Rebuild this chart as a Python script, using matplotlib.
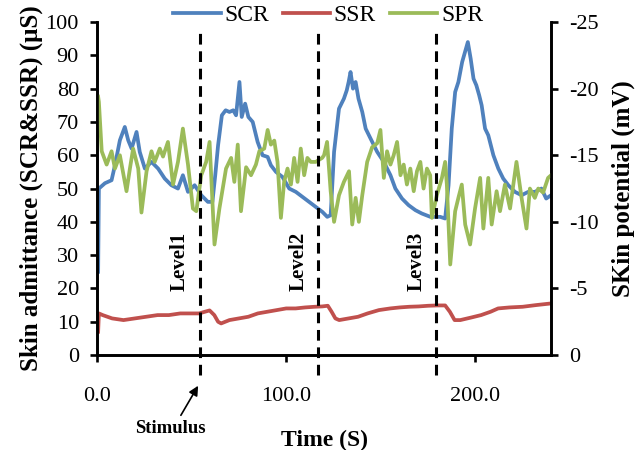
import matplotlib

matplotlib.use("Agg")
import matplotlib.pyplot as plt

# ── Data
scr_t = [0.6, 1.0, 4.2, 7.7, 9.5, 12.1, 14.7, 16.5, 18.3, 20.9, 22.6, 25.3, 28.8,
         32.3, 35.8, 39.3, 42.8, 45.4, 48.1, 51.6, 55.1, 58.6, 61, 62.5, 64,
         66, 68, 70, 72, 73.5, 75.3, 76.5, 78.3, 80, 82.3, 84.9, 87.5, 90.2,
         91.9, 94.6, 98, 101.6, 105.1, 108.6, 112.1, 115.6, 119.1, 121.7, 123.5,
         125.3, 127.9, 130.5, 132, 133, 134, 135.3, 136.7, 138.2, 140.2, 142,
         144.6, 148.1, 151.6, 155.1, 157.7, 161.2, 164.7, 168.3, 171.7, 176.2,
         181.4, 184, 185.8, 187.5, 189.3, 191, 193, 194.5, 196, 197.5, 199,
         200.5, 202, 203.3, 205.1, 206.8, 209.5, 212.1, 214.7, 217.4, 220.9,
         224.4, 227.9, 231.4, 234.9, 237.4, 240]
scr_v = [25, 50, 51.6, 52.5, 57, 64.5, 68.5, 64.5, 62, 67, 61, 56, 58,
         56, 53, 51, 50, 54, 49, 51, 48, 46, 46, 54, 63,
         72, 73.5, 73, 73.5, 72, 82, 71.5, 75.5, 71.5, 70, 64, 60, 59.5,
         57, 55, 53.5, 50, 49, 47.5, 46, 44.5, 43, 41.5, 42,
         61, 74, 77, 79.5, 82, 85, 80, 82, 77, 73, 68,
         65, 61, 58, 54, 50, 47, 45, 43.5, 42.5, 41.5,
         41.5, 41, 51, 68, 79, 82, 88, 91, 94, 89, 83,
         81, 78, 75, 68, 66, 60, 56, 53, 51, 49,
         48, 49, 49, 50, 47, 48]

ssr_t = [0.6, 1.0, 3, 8, 14, 20, 26, 32, 38, 44, 50, 54, 57, 59.5, 62, 64, 65.6,
         70, 75, 80, 85, 90, 95, 100, 105, 110, 115, 119, 122, 124, 126, 128,
         133, 138, 143, 149, 155, 160, 165, 170, 175, 180, 184, 186.5, 189,
         192, 198, 203, 208, 212, 218, 225, 232, 240]
ssr_v = [7, 12.5, 12, 11, 10.5, 11, 11.5, 12, 12, 12.5, 12.5, 12.5, 13, 13.4,
         12, 10, 9.5, 10.5, 11, 11.5, 12.5, 13, 13.5, 14, 14, 14.3, 14.5, 14.6,
         14.8, 13, 11, 10.5, 11, 11.5, 12.5, 13.5, 14, 14.3, 14.5, 14.6, 14.8,
         14.9, 14.9, 13, 10.5, 10.5, 11.3, 12, 13, 14, 14.3, 14.5, 15, 15.5]

spr_t = [0.6, 1.0, 2.5, 5.1, 7.7, 9.5, 12.1, 15.6, 17.4, 19.1, 21.8, 23.5, 26.2,
         28.8, 30.5, 33.2, 34.9, 37.5, 40.2, 42.8, 45.4, 48.1, 50.7, 52.5,
         55.1, 57.7, 59.5, 62.1, 64.7, 68.2, 70.9, 72.6, 74.4, 76.1, 78.8,
         81.4, 84, 85.8, 88.4, 90.2, 91.9, 93.7, 95.4, 97.2, 98.9, 100.7,
         102.5, 104.2, 106, 107.7, 109.5, 111.2, 113, 115.6, 119, 120, 121.6,
         123.5, 125.3, 127.9, 130.5, 133.2, 134.9, 136.7, 138.4, 140.2, 142.8,
         145.4, 148.1, 149.8, 151.6, 153.3, 155.1, 156.8, 158.6, 160.4, 162.1,
         163.8, 165.6, 167.4, 169.1, 170.9, 172.6, 174.4, 176.1, 177, 179.6,
         182.3, 184, 184.9, 186.7, 189.3, 191, 192.8, 194.6, 197.2, 199.8,
         202.5, 204.2, 206.8, 208.6, 211.2, 213, 215.6, 218.3, 221.7, 224.4,
         227, 228.8, 231.4, 233.2, 235.8, 238.4, 240]
spr_v = [-19.4, -19.0, -15.3, -14.3, -15.3, -14, -15, -12.3, -14, -15.5, -14,
         -10.7, -13.8, -15.3, -14.5, -15.5, -14.9, -16, -12.8, -14.5, -17,
         -14.3, -11, -10.8, -13.5, -14.5, -16, -8.3, -11, -14, -14.8, -13,
         -15.8, -10.8, -14.1, -13.5, -14.3, -15.3, -15.5, -16.9, -15.8, -16.1,
         -14.5, -10.3, -13, -14, -12.8, -14.8, -13, -15.5, -13.5, -14.8, -14.5,
         -14.5, -14.8, -15, -16, -12.3, -10, -12, -13, -13.8, -9.8, -11.8, -10,
         -12, -14.5, -15.6, -15.9, -16.9, -13.3, -15.3, -14.3, -15, -16, -13.5,
         -14.3, -12.8, -14, -12.3, -13.8, -14.5, -12.5, -14, -13.5, -10.3, -12,
         -13.3, -14.5, -12.8, -6.8, -10.8, -11.8, -12.8, -9.8, -8.3, -11, -13.3,
         -9.5, -13.3, -9.8, -12.3, -10.8, -12.8, -11, -14.5, -11.8, -9.5, -12.5,
         -11.8, -12.5, -12.2, -13.3, -13.5]

level_t = [54.2, 116.9, 179.4]
level_names = ["Level1", "Level2", "Level3"]

left_ticks = list(range(0, 101, 10))
right_ticks = [0, -5, -10, -15, -20, -25]
x_ticks = [0, 100, 200]
x_labels = ["0.0", "100.0", "200.0"]

BLUE = "#4F81BD"
RED = "#C0504D"
GREEN = "#9BBB59"

plt.rcParams["font.family"] = ["Liberation Serif", "DejaVu Serif"]

fig = plt.figure(figsize=(6.36, 4.5), dpi=100)
ax = fig.add_axes([0.1525, 0.211, 0.714, 0.740])
ax2 = ax.twinx()

l_scr, = ax.plot(scr_t, scr_v, color=BLUE, lw=2.7, label="SCR")
l_ssr, = ax.plot(ssr_t, ssr_v, color=RED, lw=2.7, label="SSR")
l_spr, = ax2.plot(spr_t, spr_v, color=GREEN, lw=2.7, label="SPR")

# stimulus level markers (drawn in left-axis units, above all curves)
for t, name in zip(level_t, level_names):
    ax2.plot([t, t], [-6, 97], transform=ax.transData, color="k", lw=2.2,
             dashes=(3.5, 2.2), clip_on=False, zorder=5)
    ax2.text(t - 10.5, 28, name, transform=ax.transData, rotation=90,
             ha="center", va="center", fontsize=15, fontweight="bold")

ax.annotate("Stimulus", xy=(level_t[0], -8.5), xytext=(39, -22.2),
            textcoords="data", annotation_clip=False, ha="center",
            va="center", fontsize=13.5, fontweight="bold",
            arrowprops=dict(arrowstyle="-|>", color="k", lw=1.2,
                            mutation_scale=14, relpos=(0.6, 1.0)))

ax.set_xlim(0, 240)
ax.set_ylim(0, 100)
ax2.set_ylim(0, -25)

ax.set_xticks(x_ticks)
ax.set_xticklabels(x_labels)
ax.set_yticks(left_ticks)
ax2.set_yticks(right_ticks)
ax2.set_yticklabels([str(v) for v in right_ticks])

for a in (ax, ax2):
    a.spines["top"].set_visible(False)
    for s in ("left", "right", "bottom"):
        a.spines[s].set_linewidth(1.9)

ax.tick_params(axis="y", direction="out", length=5, width=1.9,
               labelsize=16, pad=8)
ax.tick_params(axis="x", direction="out", length=5, width=1.9,
               labelsize=16, pad=18)
ax2.tick_params(axis="y", direction="out", length=5, width=1.9,
                labelsize=16, pad=8)

ax.set_xlabel("Time (S)", fontsize=17, fontweight="bold", labelpad=17)
ax.set_ylabel("Skin admittance (SCR&SSR) (μS)", fontsize=18,
              fontweight="bold", labelpad=2)
ax2.set_ylabel("SKin potential (mV)", fontsize=18, fontweight="bold",
               labelpad=9)

fig.legend(handles=[l_scr, l_ssr, l_spr], loc="center",
           bbox_to_anchor=(0.516, 0.966), ncol=3, frameon=False,
           fontsize=17, handlelength=2.0, handletextpad=0.15,
           columnspacing=0.6)

fig.savefig("out.png", dpi=100)
